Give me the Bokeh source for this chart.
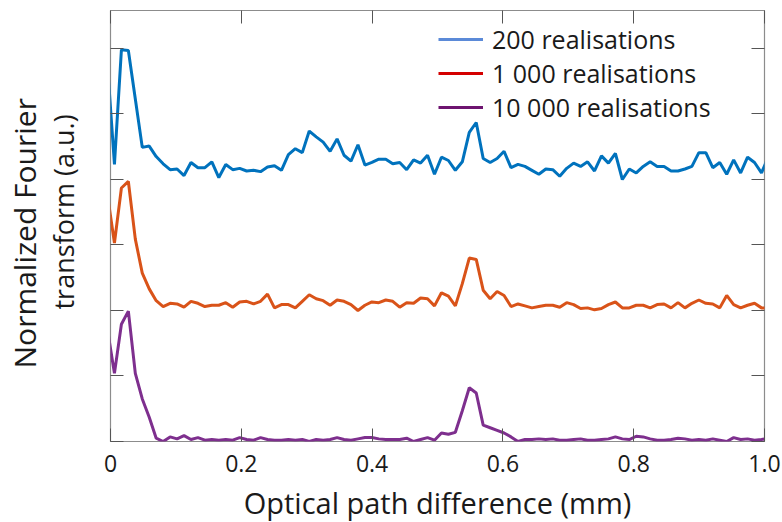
import numpy as np
from bokeh.plotting import figure
from bokeh.models import Range1d, LinearAxis, FixedTicker, Legend, LegendItem, ColumnDataSource, Title
from bokeh.embed import file_html
from bokeh.resources import INLINE

# ---- data ----
opd_mm = np.round(-0.0046 + np.arange(96) / 94.0, 5)

real_200 = [5.75, 4.23, 5.98, 5.97, 5.23, 4.49, 4.51, 4.35, 4.24, 4.15,
            4.16, 4.06, 4.26, 4.18, 4.18, 4.27, 4.03, 4.23, 4.15, 4.17,
            4.13, 4.14, 4.12, 4.19, 4.21, 4.14, 4.38, 4.47, 4.41, 4.74,
            4.65, 4.57, 4.43, 4.62, 4.37, 4.28, 4.53, 4.22, 4.26, 4.31,
            4.31, 4.24, 4.26, 4.15, 4.30, 4.25, 4.37, 4.08, 4.34, 4.29,
            4.14, 4.27, 4.72, 4.87, 4.32, 4.26, 4.32, 4.43, 4.18, 4.23,
            4.20, 4.14, 4.08, 4.16, 4.15, 4.05, 4.17, 4.25, 4.20, 4.27,
            4.13, 4.36, 4.25, 4.40, 4.00, 4.16, 4.10, 4.20, 4.27, 4.20,
            4.20, 4.13, 4.13, 4.16, 4.20, 4.41, 4.41, 4.18, 4.26, 4.08,
            4.30, 4.10, 4.34, 4.26, 4.10, 4.35]

real_1000 = [3.76, 3.03, 3.87, 3.97, 3.09, 2.57, 2.33, 2.15, 2.06, 2.11,
             2.10, 2.05, 2.14, 2.11, 2.06, 2.08, 2.08, 2.12, 2.05, 2.13,
             2.14, 2.10, 2.14, 2.25, 2.04, 2.09, 2.09, 2.04, 2.14, 2.24,
             2.18, 2.15, 2.08, 2.16, 2.14, 2.09, 2.00, 2.08, 2.13, 2.12,
             2.16, 2.14, 2.05, 2.12, 2.11, 2.19, 2.18, 2.07, 2.27, 2.22,
             2.07, 2.41, 2.80, 2.78, 2.31, 2.18, 2.29, 2.23, 2.06, 2.10,
             2.07, 2.04, 2.06, 2.08, 2.08, 2.05, 2.12, 2.09, 2.03, 2.04,
             2.01, 2.03, 2.09, 2.13, 2.04, 2.04, 2.08, 2.08, 2.04, 2.09,
             2.10, 2.04, 2.12, 2.04, 2.11, 2.16, 2.11, 2.10, 2.04, 2.23,
             2.09, 2.04, 2.08, 2.11, 2.04, 2.04]

real_10000 = [1.71, 1.04, 1.79, 1.99, 1.04, 0.65, 0.37, 0.05, 0.00, 0.07,
              0.04, 0.09, 0.03, 0.06, 0.02, 0.03, 0.02, 0.03, 0.02, 0.06,
              0.03, 0.02, 0.06, 0.03, 0.02, 0.02, 0.03, 0.02, 0.03, 0.00,
              0.03, 0.02, 0.03, 0.06, 0.03, 0.02, 0.04, 0.06, 0.06, 0.04,
              0.03, 0.03, 0.03, 0.05, 0.00, 0.03, 0.06, 0.02, 0.13, 0.11,
              0.14, 0.47, 0.82, 0.74, 0.25, 0.21, 0.17, 0.13, 0.07, 0.00,
              0.03, 0.03, 0.04, 0.03, 0.04, 0.02, 0.02, 0.03, 0.04, 0.02,
              0.02, 0.03, 0.04, 0.07, 0.04, 0.03, 0.08, 0.07, 0.04, 0.02,
              0.02, 0.03, 0.05, 0.04, 0.02, 0.03, 0.02, 0.04, 0.02, 0.00,
              0.06, 0.03, 0.04, 0.02, 0.03, 0.05]

series_names = ["200 realisations", "1 000 realisations", "10 000 realisations"]
line_colors = ["#0072BD", "#D95319", "#7E2F8E"]
legend_colors = ["#5B8AD8", "#D40000", "#6E1470"]

x_ticks = [0, 0.2, 0.4, 0.6, 0.8, 1.0]
x_tick_labels = ["0", "0.2", "0.4", "0.6", "0.8", "1.0"]
y_ticks = [0, 1, 2, 3, 4, 5, 6]
y_title_lines = ["Normalized Fourier", "transform (a.u.)"]

FONT = "Open Sans"
TXT = "#1a1a1a"

p = figure(frame_width=654, frame_height=431,
           x_range=Range1d(0, 1), y_range=Range1d(0, 6.58),
           output_backend="svg", toolbar_location=None,
           min_border_left=110, min_border_right=18,
           min_border_top=10, min_border_bottom=81)
p.xgrid.grid_line_color = None
p.ygrid.grid_line_color = None
p.outline_line_color = "#8c8c8c"
p.outline_line_width = 1.2
p.background_fill_color = "white"

src = ColumnDataSource(data=dict(x=opd_mm, a=real_200, b=real_1000, c=real_10000))
for col, colr in zip(["a", "b", "c"], line_colors):
    p.line("x", col, source=src, line_color=colr, line_width=3)

# legend (separate colored samples, drawn off-range so only the legend shows them)
items = []
for name, colr in zip(series_names, legend_colors):
    r = p.line(x=[-10, -9], y=[-10, -10], line_color=colr, line_width=3)
    items.append(LegendItem(label=name, renderers=[r]))
leg = Legend(items=items, location=(328, 317))
leg.glyph_width = 45
leg.label_standoff = 9
leg.label_text_font = FONT
leg.label_text_font_size = "25px"
leg.label_text_color = TXT
leg.border_line_color = None
leg.background_fill_alpha = 0
leg.padding = 0
leg.margin = 0
leg.spacing = 0
p.add_layout(leg)

def style_ticks(ax, labels=False):
    ax.axis_line_color = None
    ax.major_tick_in = 13
    ax.major_tick_out = 0
    ax.major_tick_line_color = "#555555"
    ax.major_tick_line_width = 1
    ax.minor_tick_line_color = None
    if not labels:
        ax.major_label_text_font_size = "1px"
        ax.major_label_text_color = None
        ax.major_label_standoff = 0

# bottom x axis
xa = p.xaxis[0]
xa.ticker = FixedTicker(ticks=x_ticks)
xa.major_label_overrides = {t: l for t, l in zip(x_ticks, x_tick_labels)}
style_ticks(xa, labels=True)
xa.major_label_text_font = FONT
xa.major_label_text_font_size = "23px"
xa.major_label_text_color = TXT
xa.major_label_standoff = 13
xa.axis_label = "Optical path difference (mm)"
xa.axis_label_text_font = FONT
xa.axis_label_text_font_size = "29px"
xa.axis_label_text_font_style = "normal"
xa.axis_label_text_color = TXT
xa.axis_label_standoff = 8

# left y axis: ticks only
ya = p.yaxis[0]
ya.ticker = FixedTicker(ticks=y_ticks)
style_ticks(ya)

# y title as two stacked side titles (inner line first)
t2 = Title(text=y_title_lines[1], align="left", offset=132, standoff=58,
           text_font=FONT, text_font_size="27px", text_font_style="normal",
           text_color=TXT)
p.add_layout(t2, "left")
t1 = Title(text=y_title_lines[0], align="left", offset=73, standoff=-62,
           text_font=FONT, text_font_size="30px", text_font_style="normal",
           text_color=TXT)
p.add_layout(t1, "left")

# top / right tick-only axes
xt = LinearAxis(ticker=FixedTicker(ticks=x_ticks))
style_ticks(xt)
p.add_layout(xt, "above")
yr = LinearAxis(ticker=FixedTicker(ticks=y_ticks))
style_ticks(yr)
p.add_layout(yr, "right")

open("out.html", "w").write(file_html(p, INLINE))
